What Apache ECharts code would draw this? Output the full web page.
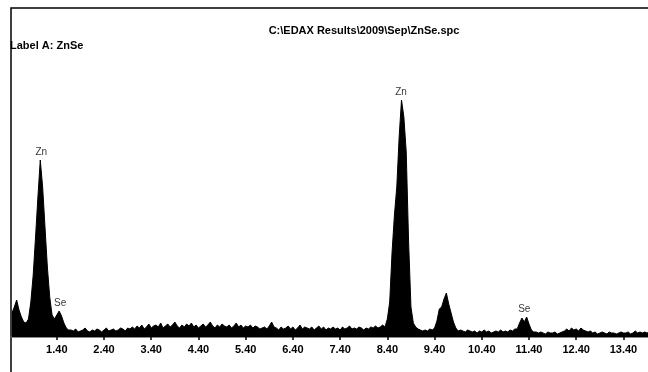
<!DOCTYPE html>
<html>
<head>
<meta charset="utf-8">
<script src="https://cdn.jsdelivr.net/npm/echarts@6/dist/echarts.min.js"></script>
<style>
  html, body { margin: 0; padding: 0; background: #fff; }
  #main { width: 648px; height: 372px; }
</style>
</head>
<body>
<div id="main"></div>
<script>
// channel calibration (keV)
var eStart = 0.45, eStep = 0.05;

// counts per channel
var counts = [
  24,30,37,27,20,15,14,18,35,62,100,140,177,150,110,70,40,22,18,22,26,21,14,9,7,
  7,6,8,5,6,7,9,6,5,7,
  6,8,7,5,7,9,6,7,8,6,
  7,9,8,6,9,8,
  10,8,11,9,12,8,10,13,9,11,
  12,10,14,9,11,13,10,12,15,11,
  9,12,10,13,11,14,10,12,9,11,
  13,10,12,15,11,9,12,10,13,11,
  10,12,9,11,14,10,12,9,11,10,
  12,9,11,10,8,
  9,10,8,11,15,10,9,7,10,8,
  9,11,8,10,7,9,12,8,10,9,
  8,10,7,9,11,8,10,7,9,8,
  10,8,9,7,10,8,9,11,8,9,
  8,10,9,7,9,8,10,9,11,9,10,12,
  10,18,35,85,122,150,200,237,220,185,95,30,14,10,8,7,6,7,6,8,7,9,
  16,28,30,38,44,33,24,15,9,6,
  7,6,5,7,6,5,6,4,6,5,7,5,6,4,5,6,5,7,5,6,5,7,6,8,
  8,14,19,15,20,13,7,5,
  5,4,5,4,3,5,4,4,5,3,4,5,
  6,8,6,9,7,8,6,9,7,6,5,6,
  4,5,3,4,5,4,3,5,4,4,3,4,
  5,4,4,5,3,4,6,4,5,4,5,4,5
];

// peak identification labels
var peakNames  = ['Zn', 'Se', 'Zn', 'Se'];
var peakEnergy = [1.07, 1.47, 8.69, 11.30];
var peakCounts = [177, 26, 237, 20];

// axis tick labels
var tickValues = [1.4, 2.4, 3.4, 4.4, 5.4, 6.4, 7.4, 8.4, 9.4, 10.4, 11.4, 12.4, 13.4];

var spectrum = counts.map(function(c, i){
  return [+(eStart + i * eStep).toFixed(2), c];
});
var peaks = peakNames.map(function(n, i){
  return {name: n, value: [peakEnergy[i], peakCounts[i]]};
});

var font = '"Liberation Sans", Arial, sans-serif';
var chart = echarts.init(document.getElementById('main'));

chart.setOption({
  animation: false,
  backgroundColor: '#fff',
  grid: {left: 11, right: 0, top: 7, bottom: 35},
  xAxis: {
    type: 'value',
    min: 0.43,
    max: 13.92,
    splitLine: {show: false},
    axisLine: {lineStyle: {color: '#666', width: 1.5}},
    axisTick: {
      customValues: tickValues,
      length: 3,
      lineStyle: {color: '#000', width: 1.5}
    },
    axisLabel: {
      customValues: tickValues,
      formatter: function(v){ return v.toFixed(2); },
      color: '#000',
      fontFamily: font,
      fontWeight: 'bold',
      fontSize: 11,
      margin: 7
    }
  },
  yAxis: {
    type: 'value',
    min: 0,
    max: 330,
    show: false
  },
  graphic: [
    {
      type: 'rect',
      shape: {x: 11, y: 8, width: 700, height: 400},
      style: {fill: 'none', stroke: '#000', lineWidth: 1.5},
      silent: true
    },
    {
      type: 'text',
      x: 364, y: 31,
      style: {
        text: 'C:\\EDAX Results\\2009\\Sep\\ZnSe.spc',
        fill: '#000', font: 'bold 11px ' + font,
        textAlign: 'center', textVerticalAlign: 'middle'
      }
    },
    {
      type: 'text',
      x: 10, y: 46,
      style: {
        text: 'Label A: ZnSe',
        fill: '#000', font: 'bold 11px ' + font,
        textAlign: 'left', textVerticalAlign: 'middle'
      }
    }
  ],
  series: [
    {
      type: 'line',
      data: spectrum,
      showSymbol: false,
      symbol: 'none',
      lineStyle: {color: '#000', width: 1},
      areaStyle: {color: '#000', opacity: 1},
      z: 2
    },
    {
      type: 'scatter',
      data: peaks,
      symbolSize: 0,
      label: {
        show: true,
        position: 'top',
        distance: 3,
        formatter: '{b}',
        color: '#000',
        fontFamily: font,
        fontSize: 10
      },
      z: 3
    }
  ]
});
</script>
</body>
</html>
